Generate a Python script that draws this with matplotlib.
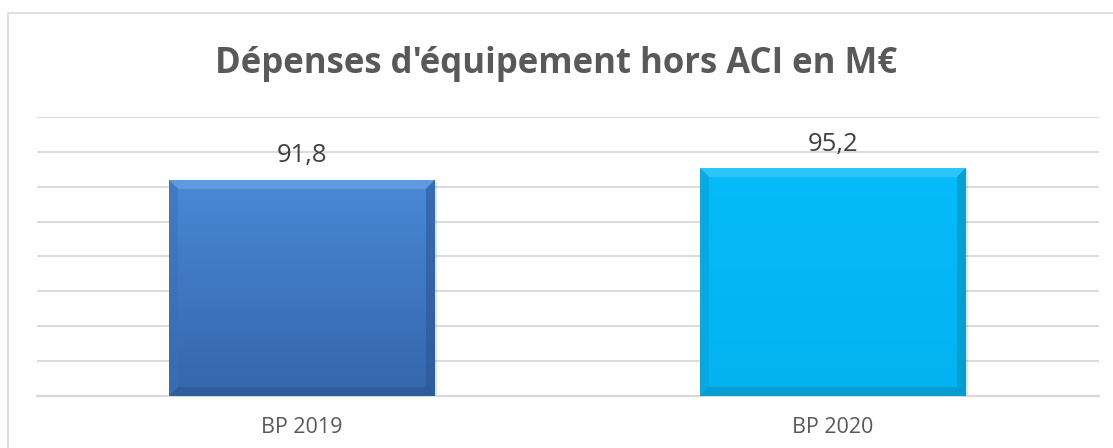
import matplotlib
matplotlib.use("Agg")
import matplotlib.pyplot as plt
import numpy as np
from matplotlib.patches import Rectangle
from matplotlib.colors import to_rgb

# data
categories = ["BP 2019", "BP 2020"]
values = [91.8, 95.2]
value_labels = ["91,8", "95,2"]
title = "Dépenses d'équipement hors ACI en M€"
y_min, y_max, y_step = 30, 110, 10

# styles
bar_styles = [
    {"top": "#4a88d6", "bottom": "#3466ab", "light": "#6fa8ec", "dark": "#2a5490", "side": "#3a70ba"},
    {"top": "#05bbf9", "bottom": "#03b3f0", "light": "#4fd0ff", "dark": "#0a8ab8", "side": "#07a0d6"},
]
grid_color = "#d9d9d9"
text_color = "#595959"

plt.rcParams["font.family"] = ["Open Sans", "DejaVu Sans"]

W, H = 1113, 448
fig = plt.figure(figsize=(W / 100, H / 100), dpi=100)
fig.patch.set_facecolor("white")

# outer frame (chart area border)
fig.add_artist(Rectangle((8 / W, -0.1), 1.2, 1 - 13 / H + 0.1, transform=fig.transFigure,
                         fill=False, edgecolor=grid_color, linewidth=1.2))

ax = fig.add_axes([36.5 / W, (H - 396) / H, 1062 / W, 279 / H])
x = np.arange(len(categories))
bars = ax.bar(x, [v - y_min for v in values], bottom=y_min, width=0.5, color="none", zorder=3)

ax.set_xlim(-0.5, len(categories) - 0.5)
ax.set_ylim(y_min, y_max)
ax.set_yticks(np.arange(y_min, y_max + 1, y_step))
ax.yaxis.grid(True, color=grid_color, linewidth=1.3)
ax.set_axisbelow(True)
ax.tick_params(axis="y", length=0, labelleft=False)
ax.tick_params(axis="x", length=0, pad=15, labelsize=15.5, labelcolor=text_color)
ax.set_xticks(x)
ax.set_xticklabels(categories)
for s in ["top", "right", "left"]:
    ax.spines[s].set_visible(False)
ax.spines["bottom"].set_color(grid_color)
ax.spines["bottom"].set_linewidth(1.6)

fig.canvas.draw()
renderer = fig.canvas.get_renderer()


def bevel_image(w, h, st, b=9):
    top = np.array(to_rgb(st["top"]))
    bot = np.array(to_rgb(st["bottom"]))
    t = np.linspace(0, 1, h)[:, None, None]
    img = np.repeat(top * (1 - t) + bot * t, w, axis=1)
    ii, jj = np.mgrid[0:h, 0:w]
    dt, db, dl, dr = ii, h - 1 - ii, jj, w - 1 - jj
    dmin = np.minimum(np.minimum(dt, db), np.minimum(dl, dr))
    edge = dmin < b
    facets = [(dt, st["light"]), (db, st["dark"]), (dl, st["side"]), (dr, st["dark"])]
    for d, c in facets:
        m = edge & (d == dmin)
        img[m] = img[m] * 0.45 + np.array(to_rgb(c)) * 0.55
    return img


for bar, st in zip(bars, bar_styles):
    bb = bar.get_window_extent(renderer)
    w, h = int(round(bb.width)), int(round(bb.height))
    img = bevel_image(w, h, st)
    x0, y0 = bar.get_x(), bar.get_y()
    # soft shadow
    ax.add_patch(Rectangle((x0 + 0.004, y0 - 0.4), bar.get_width(), bar.get_height(),
                           facecolor="#000000", alpha=0.10, edgecolor="none", zorder=2))
    ax.imshow(img, extent=(x0, x0 + bar.get_width(), y0, y0 + bar.get_height()),
              aspect="auto", interpolation="bilinear", zorder=3)

ax.set_xlim(-0.5, len(categories) - 0.5)
ax.set_ylim(y_min, y_max)

for xi, v, lab in zip(x, values, value_labels):
    ax.annotate(lab, (xi, v), xytext=(0, 13), textcoords="offset points",
                ha="center", va="baseline", fontsize=18.5, color="#404040")

fig.text(0.5, (H - 73) / H, title, ha="center", va="baseline", fontsize=25,
         fontweight="bold", color=text_color)

fig.savefig("out.png", dpi=100)
